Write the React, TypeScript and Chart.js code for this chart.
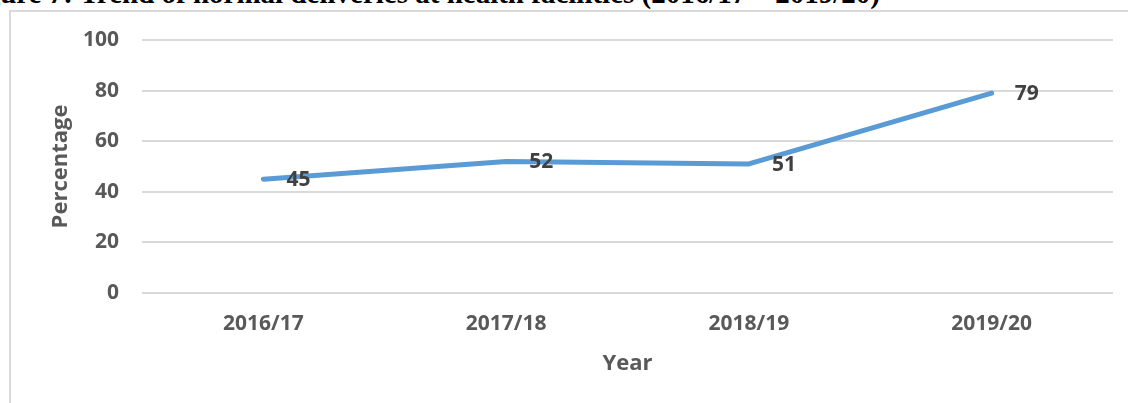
import React, { useEffect, useRef } from "react";
import { Chart, registerables } from "chart.js";

Chart.register(...registerables);

const years: string[] = ["2016/17", "2017/18", "2018/19", "2019/20"];
const percentages: number[] = [45, 52, 51, 79];
const yTicks: number[] = [0, 20, 40, 60, 80, 100];

const TITLE = "Figure 7: Trend of normal deliveries at health facilities (2016/17 – 2019/20)";
const FONT = "'Open Sans', 'DejaVu Sans', sans-serif";

const valueLabels = {
  id: "valueLabels",
  afterDatasetsDraw(chart: any) {
    const ctx = chart.ctx;
    const meta = chart.getDatasetMeta(0);
    ctx.save();
    ctx.font = `bold 21px ${FONT}`;
    ctx.fillStyle = "#404040";
    ctx.textAlign = "left";
    ctx.textBaseline = "middle";
    meta.data.forEach((el: any, i: number) => {
      ctx.fillText(String(percentages[i]), el.x + 23, el.y + 1);
    });
    ctx.restore();
  },
};

export default function App() {
  const ref = useRef<HTMLCanvasElement | null>(null);
  useEffect(() => {
    if (!ref.current) return;
    const chart = new Chart(ref.current, {
      type: "line",
      data: {
        labels: years,
        datasets: [
          {
            data: percentages,
            borderColor: "#5B9BD5",
            borderWidth: 5,
            borderCapStyle: "round",
            borderJoinStyle: "round",
            pointRadius: 0,
            tension: 0,
            fill: false,
          },
        ],
      },
      options: {
        responsive: false,
        animation: false,
        devicePixelRatio: 1,
        layout: { padding: { top: 29, right: 15, bottom: 0, left: 0 } },
        plugins: {
          legend: { display: false },
          tooltip: { enabled: false },
        },
        scales: {
          x: {
            type: "category",
            offset: true,
            grid: { display: false, drawTicks: false },
            border: { display: false },
            ticks: {
              color: "#595959",
              font: { family: FONT, size: 21, weight: "bold" },
              padding: 18,
              maxRotation: 0,
              autoSkip: false,
            },
            title: {
              display: true,
              text: "Year",
              color: "#595959",
              font: { family: FONT, size: 22, weight: "bold" },
              padding: { top: 0, bottom: 26 },
            },
            afterFit: (s: any) => {
              s.height = 110;
              s.paddingLeft = 0;
              s.paddingRight = 0;
            },
          },
          y: {
            min: 0,
            max: 100,
            afterBuildTicks: (s: any) => {
              s.ticks = yTicks.map((v) => ({ value: v }));
            },
            ticks: {
              color: "#595959",
              font: { family: FONT, size: 21, weight: "bold" },
              padding: 23,
            },
            grid: { color: "#D9D9D9", lineWidth: 2, drawTicks: false },
            border: { display: false },
            title: {
              display: true,
              text: "Percentage",
              color: "#595959",
              font: { family: FONT, size: 22, weight: "bold" },
              padding: { top: 38, bottom: 0 },
            },
            afterFit: (s: any) => {
              s.width = 132;
              s.paddingTop = 0;
              s.paddingBottom = 0;
            },
          },
        },
      },
      plugins: [valueLabels],
    } as any);
    if ((document as any).fonts && (document as any).fonts.ready) {
      (document as any).fonts.ready.then(() => {
        try { chart.update(); } catch (e) {}
      });
    }
    return () => chart.destroy();
  }, []);

  return (
    <div
      style={{
        position: "fixed",
        left: 0,
        top: 0,
        width: 1128,
        height: 403,
        overflow: "hidden",
        background: "#ffffff",
      }}
    >
      <div
        style={{
          position: "absolute",
          right: 248,
          top: -21,
          whiteSpace: "nowrap",
          fontFamily: "'Liberation Serif', 'Times New Roman', serif",
          fontWeight: "bold",
          fontSize: 29,
          lineHeight: 1,
          color: "#000",
        }}
      >
        {TITLE}
      </div>
      <div
        style={{
          position: "absolute",
          left: 9,
          top: 10,
          width: 1200,
          height: 500,
          border: "2px solid #D9D9D9",
          boxSizing: "border-box",
        }}
      />
      <canvas
        ref={ref}
        width={1118}
        height={392}
        style={{ position: "absolute", left: 10, top: 11, width: 1118, height: 392 }}
      />
    </div>
  );
}
